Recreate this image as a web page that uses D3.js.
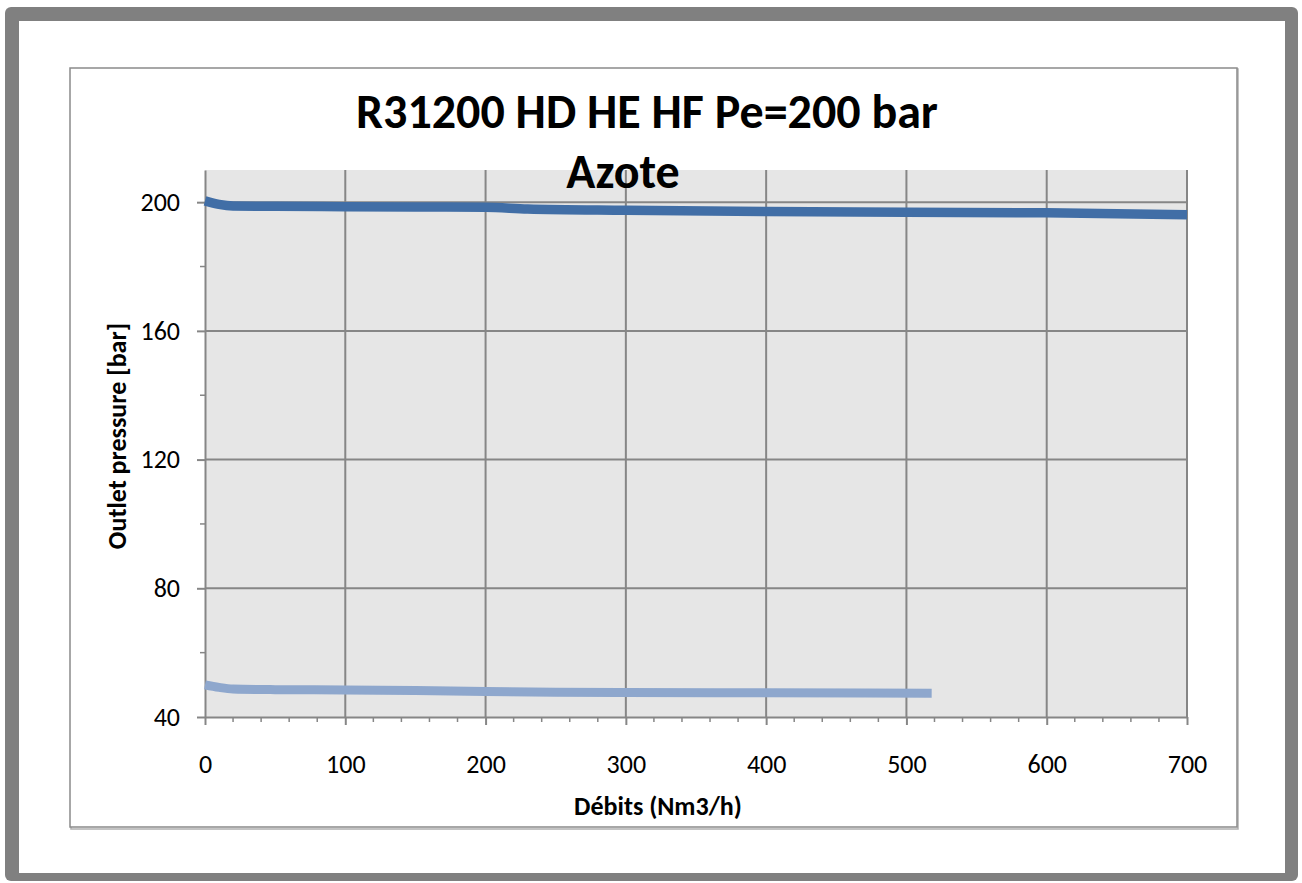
<!DOCTYPE html>
<html>
<head>
<meta charset="utf-8">
<script src="https://cdn.jsdelivr.net/npm/d3@7"></script>
<style>
  body { margin: 0; background: #fff; }
  text { font-family: Carlito, Lato, "Open Sans", sans-serif; }
</style>
</head>
<body>
<div id="chart"></div>
<script>
// data
let flowHigh = [0, 10, 20, 50, 100, 150, 200, 230, 300, 400, 500, 600, 700];
let pressHigh = [200.4, 199.3, 198.8, 198.7, 198.6, 198.5, 198.4, 197.9, 197.5, 197.1, 196.9, 196.7, 196.1];
let flowLow = [0, 10, 20, 50, 100, 150, 200, 250, 300, 400, 518];
let pressLow = [50.0, 49.2, 48.7, 48.5, 48.4, 48.2, 47.9, 47.7, 47.6, 47.5, 47.4];
let xTicks = [0, 100, 200, 300, 400, 500, 600, 700];
let yTicks = [40, 80, 120, 160, 200];
let titleLines = ["R31200 HD HE HF Pe=200 bar", "Azote"];

let W = 1302, H = 883;

let svg = d3.select("#chart").append("svg")
    .attr("width", W)
    .attr("height", H);

// outer gray frame
svg.append("rect")
    .attr("x", 5).attr("y", 7)
    .attr("width", 1293).attr("height", 874)
    .attr("rx", 6)
    .attr("fill", "#808080");
svg.append("rect")
    .attr("x", 19).attr("y", 21)
    .attr("width", 1266).attr("height", 852)
    .attr("fill", "#fff");

// chart box with a little shadow
svg.append("rect")
    .attr("x", 71).attr("y", 69)
    .attr("width", 1167).attr("height", 760)
    .attr("fill", "none")
    .attr("stroke", "#b0b0b0")
    .attr("stroke-width", 1.5);
svg.append("rect")
    .attr("x", 70).attr("y", 68)
    .attr("width", 1167).attr("height", 759)
    .attr("fill", "#fff")
    .attr("stroke", "#8a8a8a")
    .attr("stroke-width", 1.5);

let marginLeft = 205, marginTop = 170, plotW = 982, plotH = 547;

let x = d3.scaleLinear().domain([0, 700]).range([0, plotW]);
let y = d3.scaleLinear().domain([40, 210]).range([plotH, 0]);

let g = svg.append("g")
    .attr("transform", "translate(" + marginLeft + "," + marginTop + ")");

// plot background
g.append("rect")
    .attr("width", plotW)
    .attr("height", plotH)
    .attr("fill", "#e6e6e6");

// gridlines
g.selectAll(".vgrid")
    .data(xTicks.slice(1))
    .enter().append("line")
    .attr("x1", d => x(d)).attr("x2", d => x(d))
    .attr("y1", 0).attr("y2", plotH)
    .attr("stroke", "#868686")
    .attr("stroke-width", 2);
g.selectAll(".hgrid")
    .data(yTicks.slice(1))
    .enter().append("line")
    .attr("x1", 0).attr("x2", plotW)
    .attr("y1", d => y(d)).attr("y2", d => y(d))
    .attr("stroke", "#868686")
    .attr("stroke-width", 2);

// minor ticks
let xMinor = d3.range(0, 701, 20).filter(v => v % 100 !== 0);
let yMinor = d3.range(60, 201, 40);
g.selectAll(".xminor")
    .data(xMinor)
    .enter().append("line")
    .attr("x1", d => x(d)).attr("x2", d => x(d))
    .attr("y1", plotH).attr("y2", plotH + 5)
    .attr("stroke", "#868686").attr("stroke-width", 1.5);
g.selectAll(".yminor")
    .data(yMinor)
    .enter().append("line")
    .attr("x1", -5).attr("x2", 0)
    .attr("y1", d => y(d)).attr("y2", d => y(d))
    .attr("stroke", "#868686").attr("stroke-width", 1.5);

// X axis
let xAxis = g.append("g")
    .attr("transform", "translate(0," + plotH + ")")
    .call(d3.axisBottom(x).tickValues(xTicks).tickSize(8).tickSizeOuter(0).tickPadding(30));
xAxis.select(".domain").attr("stroke", "#868686").attr("stroke-width", 2);
xAxis.selectAll(".tick line").attr("stroke", "#868686").attr("stroke-width", 2);
xAxis.selectAll("text")
    .attr("fill", "#000")
    .style("font-size", "26px");

// Y axis
let yAxis = g.append("g")
    .call(d3.axisLeft(y).tickValues(yTicks).tickSize(8).tickSizeOuter(0).tickPadding(17));
yAxis.select(".domain").attr("stroke", "#868686").attr("stroke-width", 2);
yAxis.selectAll(".tick line").attr("stroke", "#868686").attr("stroke-width", 2);
yAxis.selectAll("text")
    .attr("fill", "#000")
    .style("font-size", "26px");

// the lines
let line = d3.line()
    .x(d => x(d[0]))
    .y(d => y(d[1]))
    .curve(d3.curveMonotoneX);

g.append("path")
    .datum(d3.zip(flowLow, pressLow))
    .attr("fill", "none")
    .attr("stroke", "#8ea7cd")
    .attr("stroke-width", 9)
    .attr("d", line);

g.append("path")
    .datum(d3.zip(flowHigh, pressHigh))
    .attr("fill", "none")
    .attr("stroke", "#416ea6")
    .attr("stroke-width", 9.5)
    .attr("d", line);

// title (second line sits a bit left of centre, like the original)
svg.selectAll(".title")
    .data(titleLines)
    .enter().append("text")
    .attr("x", (d, i) => i === 0 ? 647 : 623)
    .attr("y", (d, i) => 128 + i * 60)
    .attr("text-anchor", "middle")
    .style("font-size", "48px")
    .style("font-weight", "bold")
    .text(d => d);

// axis titles
svg.append("text")
    .attr("x", 658)
    .attr("y", 815)
    .attr("text-anchor", "middle")
    .style("font-size", "26px")
    .style("font-weight", "bold")
    .text("Débits (Nm3/h)");

svg.append("text")
    .attr("transform", "translate(126,436) rotate(-90)")
    .attr("text-anchor", "middle")
    .style("font-size", "26px")
    .style("font-weight", "bold")
    .text("Outlet pressure [bar]");
</script>
</body>
</html>
